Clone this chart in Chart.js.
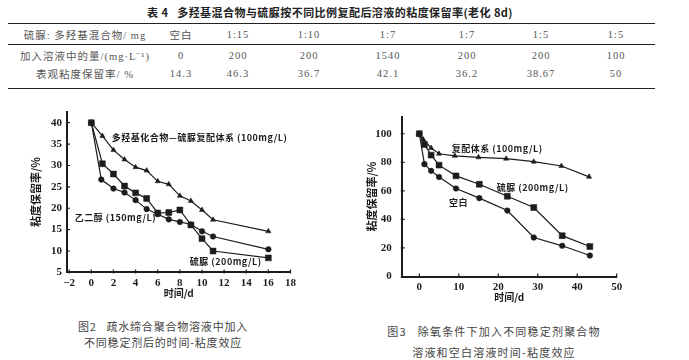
<!DOCTYPE html>
<html>
<head>
<meta charset="utf-8">
<script src="https://cdn.jsdelivr.net/npm/chart.js@4"></script>
<style>
  body { margin: 0; width: 689px; height: 360px; background: #fff; position: relative; overflow: hidden;
         font-family: 'Noto Sans CJK SC', sans-serif; color: #333; }
  .t { position: absolute; white-space: nowrap; transform: translate(-50%, -50%); }
  .cell { font-family: 'Liberation Serif', 'Noto Sans CJK SC', serif; font-size: 10.5px; color: #555; letter-spacing: 1px; }
  .rule { position: absolute; left: 8px; width: 647px; height: 0; border-top: 1.5px solid #222; }
  .cap { font-size: 11px; color: #444; letter-spacing: 0.8px; }
  .box { position: absolute; }
</style>
</head>
<body>
<div class="t" style="left:330px;top:11.5px;font-size:11px;font-weight:bold;color:#222;letter-spacing:0.45px">表 4&nbsp;&nbsp;&nbsp;多羟基混合物与硫脲按不同比例复配后溶液的粘度保留率(老化 8d)</div>
<div class="rule" style="top:22.5px"></div>
<div class="rule" style="top:43.5px"></div>
<div class="rule" style="top:87.5px"></div>
<div id="tbl"></div>

<div class="box" style="left:0;top:100px"><canvas id="c1" width="300" height="200"></canvas></div>
<div class="box" style="left:340px;top:100px"><canvas id="c2" width="290" height="205"></canvas></div>

<div class="t cap" style="left:163px;top:325.5px">图2&nbsp;&nbsp;&nbsp;疏水缔合聚合物溶液中加入</div>
<div class="t cap" style="left:163px;top:342px">不同稳定剂后的时间-粘度效应</div>
<div class="t cap" style="left:494px;top:331px;letter-spacing:1.2px">图3&nbsp;&nbsp;&nbsp;除氧条件下加入不同稳定剂聚合物</div>
<div class="t cap" style="left:494px;top:351.5px;letter-spacing:1.2px">溶液和空白溶液时间-粘度效应</div>

<script>
// ── Table 4 ─────────────────────────────────────────────
const rowLabels = ['硫脲: 多羟基混合物/ mg', '加入溶液中的量/(mg·L⁻¹)', '表观粘度保留率/ %'];
const ratios   = ['空白', '1:15', '1:10', '1:7', '1:7', '1:5', '1:5'];
const dosages  = ['0', '200', '200', '1540', '200', '200', '100'];
const retention = ['14.3', '46.3', '36.7', '42.1', '36.2', '38.67', '50'];

// ── Fig 2 (left) ───────────────────────────────────────
const leftXTicks = [-2, 0, 2, 4, 6, 8, 10, 12, 14, 16, 18];
const leftYTicks = [5, 10, 15, 20, 25, 30, 35, 40];
const leftDaysA = [0, 1, 2, 3, 4, 5, 6, 7, 8, 9, 10, 11, 16];
const leftCompound = [40, 36.9, 33.6, 31.4, 29.6, 28.8, 26.3, 25.6, 22.9, 21.7, 19.6, 17.3, 14.6];
const leftDaysB = [0, 1, 2, 3, 4, 5, 6, 7, 8, 9, 10, 11, 16];
const leftThiourea = [40, 30.4, 28.0, 25.2, 23.6, 22.3, 18.9, 19.0, 19.6, 16.1, 12.9, 10.0, 8.4];
const leftDaysC = [0, 0.9, 2, 3, 4, 5, 6, 7, 8, 9, 10, 11, 16];
const leftGlycol = [40, 26.7, 24.6, 23.7, 21.9, 19.8, 18.6, 17.4, 16.8, 16.2, 14.6, 13.4, 10.4];
const leftNotes = ['多羟基化合物—硫脲复配体系 (100mg/L)', '乙二醇 (150mg/L)', '硫脲 (200mg/L)'];

// ── Fig 3 (right) ──────────────────────────────────────
const rightXTicks = [0, 10, 20, 30, 40, 50];
const rightYTicks = [0, 20, 40, 60, 80, 100];
const rightDaysA = [0, 1, 3, 5, 9, 15, 22, 29, 36, 43];
const rightCompound = [100, 96, 90, 86, 84.5, 83.5, 82.5, 80.4, 77.4, 69.8];
const rightDaysB = [0, 1.3, 3, 5, 9.3, 15.2, 22.3, 29, 36.2, 43.2];
const rightThiourea = [100, 92.5, 85, 78, 70.5, 64.6, 56.2, 48.3, 28.6, 21];
const rightDaysC = [0, 1.3, 3, 5, 9.3, 15.2, 22.3, 29, 36.2, 43.2];
const rightBlank = [100, 78.7, 74, 69.7, 61.6, 54.9, 46.2, 27.3, 21.5, 14.7];
const rightNotes = ['复配体系 (100mg/L)', '硫脲 (200mg/L)', '空白'];

// layout of table columns (page px)
const colX = [85, 181, 238, 309, 388, 467, 541, 616];
const rowY = [34, 55, 72.5];

const tbl = document.getElementById('tbl');
[ratios, dosages, retention].forEach((row, r) => {
  [rowLabels[r]].concat(row).forEach((txt, c) => {
    const d = document.createElement('div');
    d.className = 't cell';
    d.style.left = colX[c] + 'px';
    d.style.top = rowY[r] + 'px';
    d.textContent = txt;
    tbl.appendChild(d);
  });
});

const INK = '#1c1c1c';
const NUM_FONT = { family: "'Liberation Serif', serif", size: 11, weight: 'bold' };
const CJK_FONT = { family: "'Noto Sans CJK SC', sans-serif", size: 10, weight: 'bold' };
const NOTE_FONT = "bold 9px 'Noto Sans CJK SC', sans-serif";

const pts = (xs, ys) => xs.map((x, i) => ({ x, y: ys[i] }));

function series(label, xs, ys, style, r) {
  return {
    label, data: pts(xs, ys),
    borderColor: INK, borderWidth: 1.2, tension: 0,
    pointStyle: style, pointRadius: r, pointHoverRadius: r,
    pointBackgroundColor: INK, pointBorderColor: INK, pointBorderWidth: 0.5,
  };
}

// short tick marks drawn inward from the axis lines
const inTicks = {
  id: 'inTicks',
  afterDraw(chart) {
    const { ctx, chartArea: a, scales: { x, y } } = chart;
    ctx.save();
    ctx.strokeStyle = INK; ctx.lineWidth = 1.2;
    ctx.beginPath();
    x.ticks.forEach(t => { const px = x.getPixelForValue(t.value); ctx.moveTo(px, a.bottom + 1); ctx.lineTo(px, a.bottom - 3); });
    y.ticks.forEach(t => { const py = y.getPixelForValue(t.value); ctx.moveTo(a.left - 1, py); ctx.lineTo(a.left + 3, py); });
    ctx.stroke();
    ctx.restore();
  },
};

// in-plot series labels, placed in data coordinates
const notes = {
  id: 'notes',
  afterDatasetsDraw(chart, _args, opts) {
    const { ctx, scales: { x, y } } = chart;
    ctx.save();
    ctx.font = NOTE_FONT; ctx.fillStyle = INK;
    ctx.letterSpacing = '0.5px';
    ctx.textAlign = 'left'; ctx.textBaseline = 'middle';
    opts.items.forEach(([txt, vx, vy]) => ctx.fillText(txt, x.getPixelForValue(vx), y.getPixelForValue(vy)));
    ctx.restore();
  },
};

function makeChart(el, cfg) {
  return new Chart(el, {
    type: 'line',
    data: { datasets: cfg.datasets },
    options: {
      responsive: false, animation: false,
      layout: { padding: cfg.padding },
      plugins: { legend: { display: false }, tooltip: { enabled: false }, notes: { items: cfg.notes } },
      scales: {
        x: {
          type: 'linear', min: cfg.xMin, max: cfg.xMax,
          afterBuildTicks: s => { s.ticks = cfg.xTicks.map(v => ({ value: v })); },
          afterFit: s => { s.height = cfg.xHeight; },
          ticks: { font: NUM_FONT, color: INK, padding: cfg.xPad, maxRotation: 0, autoSkip: false,
                   callback: v => (v < 0 ? '−' + Math.abs(v) : String(v)) },
          grid: { display: false, drawTicks: false },
          border: { display: true, width: 2, color: INK },
          title: { display: true, text: '时间/d', font: CJK_FONT, color: INK, padding: { top: 0, bottom: cfg.xTitlePad } },
        },
        y: {
          type: 'linear', min: cfg.yMin, max: cfg.yMax,
          afterBuildTicks: s => { s.ticks = cfg.yTicks.map(v => ({ value: v })); },
          afterFit: s => { s.width = cfg.yWidth; },
          ticks: { font: NUM_FONT, color: INK, padding: cfg.yPad, autoSkip: false },
          grid: { display: false, drawTicks: false },
          border: { display: true, width: 2, color: INK },
          title: { display: true, text: '粘度保留率/%', font: { ...CJK_FONT, size: 11 }, color: INK,
                   padding: { top: cfg.yTitlePad, bottom: 0 } },
        },
      },
    },
    plugins: [inTicks, notes],
  });
}

makeChart(document.getElementById('c1'), {
  datasets: [
    series('多羟基化合物—硫脲复配体系', leftDaysA, leftCompound, 'triangle', 3),
    series('乙二醇', leftDaysC, leftGlycol, 'circle', 2.8),
    series('硫脲', leftDaysB, leftThiourea, 'rect', 4.2),
  ],
  notes: [[leftNotes[0], 1.85, 36.5], [leftNotes[1], -1.5, 17.8], [leftNotes[2], 8.9, 7.5]],
  xMin: -2.2, xMax: 18, yMin: 5, yMax: 42.6,
  xTicks: leftXTicks, yTicks: leftYTicks,
  padding: { top: 9.3, right: 8.7, left: 0, bottom: 0 },
  xHeight: 27.6, xPad: 4, xTitlePad: 0.7,
  yWidth: 67, yPad: 5, yTitlePad: 29,
});

makeChart(document.getElementById('c2'), {
  datasets: [
    series('复配体系', rightDaysA, rightCompound, 'triangle', 3),
    series('空白', rightDaysC, rightBlank, 'circle', 2.8),
    series('硫脲', rightDaysB, rightThiourea, 'rect', 4.2),
  ],
  notes: [[rightNotes[0], 8.2, 89.6], [rightNotes[1], 19.6, 62.3], [rightNotes[2], 7.5, 51.6]],
  xMin: -4.46, xMax: 50, yMin: 0, yMax: 112,
  xTicks: rightXTicks, yTicks: rightYTicks,
  padding: { top: 10, right: 13.3, left: 0, bottom: 0 },
  xHeight: 28.5, xPad: 3.6, xTitlePad: 1.5,
  yWidth: 61.7, yPad: 10, yTitlePad: 25.5,
});
</script>
</body>
</html>
